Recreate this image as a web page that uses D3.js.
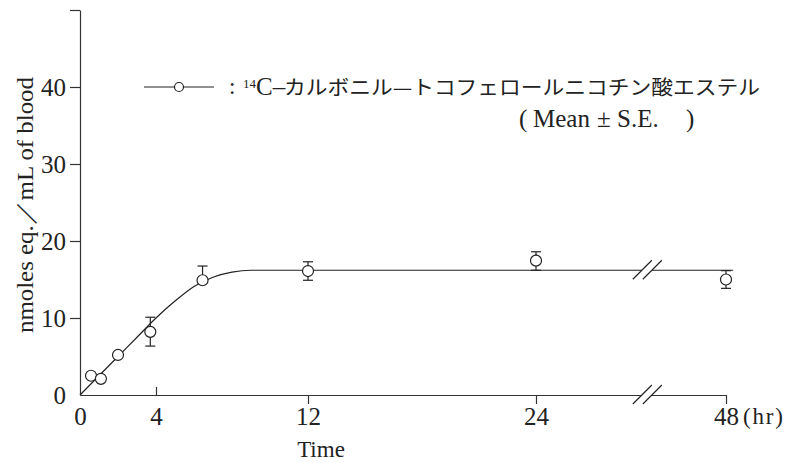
<!DOCTYPE html>
<html>
<head>
<meta charset="utf-8">
<script src="https://cdn.jsdelivr.net/npm/d3@7"></script>
<style>
  body { margin: 0; background: #fff; }
  .axis path, .axis line { stroke: #333; stroke-width: 1.2; }
  .axis text { font-family: "Liberation Serif", serif; font-size: 25px; fill: #222; }
  .lbl { font-family: "Liberation Serif", serif; font-size: 23px; fill: #222; }
  .jp { font-family: "Noto Sans CJK JP", sans-serif; font-size: 20px; fill: #222; }
</style>
</head>
<body>
<div id="chart"></div>
<script>
// measured points: time (hr), mean, S.E. above / below
const hours = [0.58, 1.1, 2, 3.7, 6.45, 12, 24, 48]
const means = [2.5, 2.1, 5.2, 8.2, 14.9, 16.1, 17.45, 15.0]
const errUp = [0, 0, 0, 1.9, 1.85, 1.2, 1.15, 1.15]
const errDown = [0, 0, 0, 1.85, 0, 1.2, 1.25, 1.15]

// fitted curve
const curveHours = [0, 1, 2, 3, 4, 5, 6, 7, 8, 9, 12, 24, 48.9]
const curveValues = [0, 2.5, 5.0, 7.5, 10.0, 12.2, 14.1, 15.3, 15.95, 16.2, 16.2, 16.2, 16.2]

const xTicks = [0, 4, 12, 24, 48]
const yTicks = [0, 10, 20, 30, 40, 50]
const breakAt = 38

const w = 785, h = 463

const x = d3.scaleLinear()
  .domain([0, 24, 48])
  .range([80, 536, 726])

const y = d3.scaleLinear()
  .domain([0, 50])
  .range([395, 10])

const svg = d3.select("#chart").append("svg")
  .attr("width", w)
  .attr("height", h)

// y axis
const yAxis = svg.append("g")
  .attr("class", "axis")
  .attr("transform", `translate(${x(0)},0)`)
  .call(d3.axisLeft(y)
    .tickValues(yTicks)
    .tickFormat(d => d === 50 ? "" : d)
    .tickSize(10)
    .tickSizeOuter(0)
    .tickPadding(4))
yAxis.selectAll(".tick").filter(d => d === 0).select("line").remove()
yAxis.selectAll(".tick text").attr("dy", "0.34em")

// x axis
const xAxis = svg.append("g")
  .attr("class", "axis")
  .attr("transform", `translate(0,${y(0)})`)
  .call(d3.axisBottom(x)
    .tickValues(xTicks)
    .tickSize(9)
    .tickSizeOuter(0)
    .tickPadding(3))
xAxis.selectAll(".tick").filter(d => d === 0).select("line").remove()
xAxis.selectAll(".tick").filter(d => d === 4).select("line").attr("y2", -8)

svg.append("text")
  .attr("class", "lbl")
  .attr("x", x(48) + 17)
  .attr("y", y(0) + 29)
  .attr("textLength", 40)
  .attr("lengthAdjust", "spacing")
  .text("(hr)")

svg.append("text")
  .attr("class", "lbl")
  .attr("x", 321)
  .attr("y", 457)
  .attr("text-anchor", "middle")
  .text("Time")

svg.append("text")
  .attr("class", "lbl")
  .attr("transform", "translate(33,205) rotate(-90)")
  .attr("text-anchor", "middle")
  .attr("textLength", 256)
  .attr("lengthAdjust", "spacingAndGlyphs")
  .text("nmoles eq.／mL of blood")

// fitted curve
const curveData = curveHours.map((d, i) => ({t: d, v: curveValues[i]}))
svg.append("path")
  .datum(curveData)
  .attr("fill", "none")
  .attr("stroke", "#222")
  .attr("stroke-width", 1.2)
  .attr("d", d3.line()
    .x(d => x(d.t))
    .y(d => y(d.v))
    .curve(d3.curveMonotoneX))

// axis breaks
const bx = x(breakAt)
;[y(curveValues[curveValues.length - 1]), y(0)].forEach(by => {
  svg.append("path")
    .attr("d", `M${bx - 14},${by + 9}L${bx + 5},${by - 10}L${bx + 15},${by - 10}L${bx - 4},${by + 9}Z`)
    .attr("fill", "#fff")
  ;[-14, -4].forEach(off => {
    svg.append("line")
      .attr("x1", bx + off).attr("y1", by + 9)
      .attr("x2", bx + off + 19).attr("y2", by - 10)
      .attr("stroke", "#222")
      .attr("stroke-width", 1.2)
  })
})

// error bars and points
const pts = hours.map((d, i) => ({t: d, v: means[i], up: errUp[i], down: errDown[i]}))
const cap = 5
const eb = svg.append("g").attr("stroke", "#222").attr("stroke-width", 1.2)
pts.forEach(p => {
  if (p.up > 0) {
    eb.append("line").attr("x1", x(p.t)).attr("x2", x(p.t)).attr("y1", y(p.v)).attr("y2", y(p.v + p.up))
    eb.append("line").attr("x1", x(p.t) - cap).attr("x2", x(p.t) + cap).attr("y1", y(p.v + p.up)).attr("y2", y(p.v + p.up))
  }
  if (p.down > 0) {
    eb.append("line").attr("x1", x(p.t)).attr("x2", x(p.t)).attr("y1", y(p.v)).attr("y2", y(p.v - p.down))
    eb.append("line").attr("x1", x(p.t) - cap).attr("x2", x(p.t) + cap).attr("y1", y(p.v - p.down)).attr("y2", y(p.v - p.down))
  }
})

svg.append("g")
  .selectAll("circle")
  .data(pts)
  .join("circle")
  .attr("cx", d => x(d.t))
  .attr("cy", d => y(d.v))
  .attr("r", 5.5)
  .attr("fill", "#fff")
  .attr("stroke", "#222")
  .attr("stroke-width", 1.2)

// legend
const ly = y(40)
svg.append("line")
  .attr("x1", 144).attr("x2", 214)
  .attr("y1", ly).attr("y2", ly)
  .attr("stroke", "#222").attr("stroke-width", 1.2)
svg.append("circle")
  .attr("cx", 179).attr("cy", ly).attr("r", 4.5)
  .attr("fill", "#fff").attr("stroke", "#222").attr("stroke-width", 1.2)

svg.append("text")
  .attr("class", "lbl")
  .attr("x", 229).attr("y", ly + 7)
  .text(":")

const t1 = svg.append("text")
  .attr("class", "lbl")
  .attr("x", 243).attr("y", ly + 8)
t1.append("tspan").attr("font-size", 13).attr("dy", -7).text("14")
t1.append("tspan").attr("font-size", 25).attr("dy", 7).text("C–")

svg.append("text")
  .attr("class", "jp")
  .attr("x", 284).attr("y", ly + 8)
  .attr("textLength", 476)
  .attr("lengthAdjust", "spacingAndGlyphs")
  .text("カルボニル—トコフェロールニコチン酸エステル")

const t2 = svg.append("text")
  .attr("class", "lbl")
  .style("font-size", "25px")
  .attr("y", ly + 40)
t2.append("tspan").attr("x", 519).text("(")
t2.append("tspan").attr("x", 533).text("Mean")
t2.append("tspan").attr("x", 597).text("±")
t2.append("tspan").attr("x", 617).text("S.E.")
t2.append("tspan").attr("x", 686).text(")")
</script>
</body>
</html>
